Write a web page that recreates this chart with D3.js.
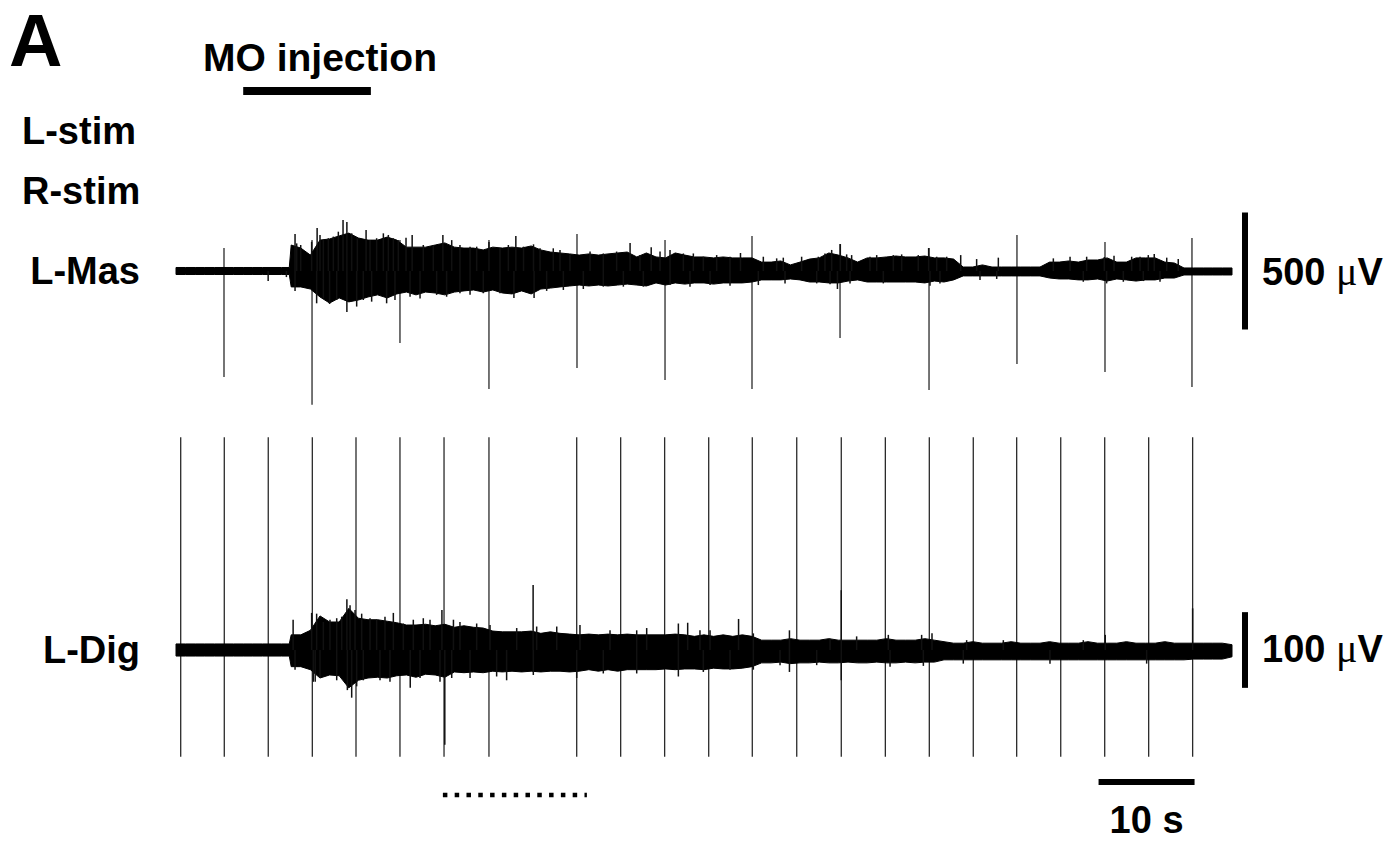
<!DOCTYPE html>
<html>
  <head>
    <meta charset="utf-8">
    <title>MO injection - L-Mas / L-Dig EMG</title>
    <script src="https://d3js.org/d3.v7.min.js"></script>
    <style>
      body { margin: 0; background: #fff; }
      text { font-family: "Liberation Sans", Arial, sans-serif; font-weight: bold; fill: #000; }
      .mu { font-family: "Liberation Serif", "DejaVu Serif", serif; font-weight: normal; }
    </style>
  </head>
  <body>
    <svg id="chart" width="1392" height="841"></svg>
    <script>
      // sample times of the envelope readings (s)
      var sampleTimes = [0, 1, 2, 3, 4, 5, 6, 7, 8, 9, 10, 11, 11.8,
        12, 13, 14, 15, 16, 17, 18, 19,
        20, 21, 22, 23, 24, 25, 26, 27, 28, 29,
        30, 31, 32, 33, 34, 35, 36, 37, 38, 39,
        40, 41, 42, 43, 44, 45, 46, 47, 48, 49,
        50, 51, 52, 53, 54, 55, 56, 57, 58, 59,
        60, 61, 62, 63, 64, 65, 66, 67, 68, 69,
        70, 71, 72, 73, 74, 75, 76, 77, 78, 79,
        80, 81, 82, 83, 84, 85, 86, 87, 88, 89,
        90, 91, 92, 93, 94, 95, 96, 97, 98, 99,
        100, 101, 102, 103, 104, 105, 106, 107, 108, 109, 110];

      // L-Mas envelope, above and below baseline (µV)
      var masUpper = [15, 15, 15, 15, 15, 15, 15, 15, 15, 15, 15, 15, 15,
        111, 98, 68, 132, 137, 150, 162, 141,
        132, 132, 145, 132, 102, 102, 102, 111, 120, 102,
        98, 98, 90, 102, 98, 102, 98, 107, 90, 81,
        77, 73, 68, 73, 68, 73, 77, 81, 60, 77,
        60, 56, 77, 68, 60, 60, 56, 60, 56, 56,
        56, 38, 38, 43, 26, 38, 51, 56, 77, 68,
        56, 38, 56, 56, 60, 64, 60, 60, 64, 56,
        56, 51, 17, 17, 26, 17, 17, 17, 17, 17,
        17, 38, 38, 43, 38, 47, 47, 56, 38, 38,
        56, 56, 56, 38, 34, 13, 13, 13, 13, 13, 13];
      var masLower = [15, 15, 15, 15, 15, 15, 15, 15, 15, 15, 15, 15, 15,
        68, 68, 77, 111, 137, 115, 132, 124,
        111, 102, 115, 98, 90, 102, 90, 94, 102, 90,
        85, 81, 90, 81, 94, 98, 85, 98, 77, 73,
        68, 64, 60, 64, 60, 64, 60, 56, 60, 64,
        51, 60, 51, 56, 51, 51, 56, 51, 51, 51,
        47, 38, 38, 38, 34, 38, 47, 47, 51, 51,
        43, 38, 47, 47, 47, 47, 47, 47, 51, 43,
        47, 38, 21, 21, 21, 21, 21, 21, 21, 21,
        21, 30, 34, 34, 38, 38, 34, 43, 34, 38,
        43, 38, 38, 30, 30, 17, 17, 17, 17, 17, 17];

      // L-Dig envelope (µV)
      var digUpper = [8, 8, 8, 8, 8, 8, 8, 8, 8, 8, 8, 8, 8,
        20, 20, 26, 45, 37, 37, 55, 42,
        40, 40, 38, 36, 33, 33, 34, 32, 34, 30,
        32, 30, 29, 25, 24, 24, 24, 25, 22, 24,
        22, 21, 20, 21, 20, 21, 20, 21, 20, 20,
        20, 20, 21, 20, 18, 20, 18, 20, 18, 20,
        18, 13, 13, 13, 15, 13, 13, 13, 15, 13,
        13, 13, 13, 13, 15, 13, 13, 13, 15, 13,
        11, 9, 9, 11, 9, 9, 9, 11, 9, 9,
        9, 11, 9, 9, 9, 11, 9, 9, 9, 11,
        9, 9, 9, 11, 9, 9, 9, 9, 9, 9, 7];
      var digLower = [8, 8, 8, 8, 8, 8, 8, 8, 8, 8, 8, 8, 8,
        22, 22, 26, 37, 33, 34, 50, 40,
        37, 36, 37, 34, 33, 36, 32, 33, 36, 29,
        30, 29, 30, 28, 29, 28, 29, 28, 29, 28,
        28, 29, 28, 26, 28, 26, 28, 26, 26, 26,
        26, 25, 26, 25, 25, 26, 24, 25, 25, 24,
        22, 17, 17, 16, 18, 17, 17, 16, 17, 17,
        16, 17, 17, 16, 17, 17, 16, 17, 16, 16,
        13, 13, 13, 13, 13, 13, 13, 13, 13, 13,
        13, 13, 13, 13, 13, 13, 13, 13, 13, 13,
        13, 13, 13, 13, 13, 13, 12, 12, 12, 12, 9];

      // single spikes sticking out of the envelope [s, µV]
      var masSpikes = [[9.6, -43], [11.5, -26], [12.4, 158], [12.4, -85], [12.57, 118], [12.99, 111],
        [14.13, 125], [14.65, -138], [14.7, 184], [15.0, 154], [15.35, 132], [15.35, -117], [15.87, 140],
        [16.0, -141], [16.39, 147], [16.74, -124], [16.91, 168], [17.4, 218], [17.8, 209], [17.8, -175],
        [18.3, 161], [18.82, -152], [18.89, 140], [19.51, -124], [19.8, 175], [20.21, 132], [20.38, -131],
        [20.9, 140], [21.6, 161], [21.94, -138], [22.12, 154], [22.64, 140], [22.81, -124], [23.16, 132],
        [23.96, 142], [24.38, -110], [24.6, 154], [25.42, -117], [25.76, 111], [26.8, 111], [27.15, -102],
        [27.8, 154], [28.19, -110], [28.72, 132], [29.58, 111], [29.58, -95], [30.63, 104], [30.63, -102],
        [31.32, 104], [32.01, -95], [32.6, 124], [33.75, 97], [33.75, -95], [34.62, 111], [35.2, -115],
        [35.4, 150], [36.2, 104], [37.24, 114], [37.3, -115], [37.92, 97], [38.61, -85], [39.3, 97],
        [40.0, 90], [40.35, -81], [41.04, 68], [42.43, -77], [43.13, 83], [44.51, 75], [44.51, -67],
        [45.9, 83], [46.6, -67], [47.3, 120], [48.33, 68], [48.68, -67], [49.5, 102], [50.42, 83],
        [51.46, 90], [51.46, -60], [52.85, 75], [53.54, -67], [53.89, 75], [54.93, 61], [55.63, -60],
        [56.32, 68], [57.71, 61], [57.71, -63], [58.8, 77], [60.66, -60], [61.18, 61], [62.57, 54],
        [63.26, 57], [63.44, -53], [65.17, 61], [66.74, -53], [66.91, 61], [67.6, 75], [68.13, -57],
        [68.3, 90], [68.9, -77], [69.2, 115], [69.86, 71], [70.21, -53], [70.38, 68], [72.29, 61],
        [72.99, 68], [73.68, -53], [74.72, 68], [75.59, 71], [77.32, 68], [78.4, 98], [78.54, -63],
        [79.24, 61], [79.58, -53], [80.28, 61], [81.74, 68], [83.4, 51], [83.75, -38], [85.49, -34],
        [85.66, 57], [91.39, 54], [93.13, 61], [94.51, -46], [94.86, 61], [96.7, 60], [96.94, -53],
        [97.71, 65], [98.68, -46], [99.55, 61], [100.42, 61], [100.76, -43], [101.28, 68], [101.9, 73],
        [102.5, -46], [103.2, 57], [104.4, 51]];
      var digSpikes = [[12.2, 40], [12.4, -26], [14.13, 49], [14.3, -42], [14.5, -42], [14.65, 48],
        [15.0, -37], [15.35, 37], [16.04, 40], [16.74, 42], [16.74, -40], [17.26, 44], [17.8, 67],
        [17.85, -53], [18.13, 59], [18.3, -63], [18.65, 53], [18.82, -48], [19.34, 48], [19.51, -40],
        [20.21, 42], [20.9, 40], [21.25, -40], [21.77, 44], [22.29, -42], [22.64, 49], [23.68, 35],
        [24.4, -50], [24.72, 40], [25.42, -37], [25.76, 42], [26.46, 40], [27.5, -42], [27.7, 53],
        [28.0, -125], [28.72, -37], [28.9, 40], [29.58, 37], [30.63, -37], [31.32, 35], [32.71, 33],
        [33.4, -35], [34.44, -40], [35.49, 29], [37.2, 86], [37.22, -33], [37.57, 31], [39.66, 31],
        [41.74, -37], [42.08, 33], [44.51, -31], [45.21, 26], [47.99, 26], [47.99, -31], [49.03, 29],
        [52.33, 35], [52.33, -35], [53.3, 36], [54.58, 26], [54.93, -29], [55.63, 26], [57.71, -26],
        [58.6, 41], [60.14, 22], [60.14, -26], [62.92, -20], [63.9, 26], [63.9, -29], [66.74, -20],
        [68.13, 15], [69.3, 79], [69.3, -40], [70.9, 18], [74.2, 20], [74.38, -22], [77.67, 20],
        [77.85, -21], [78.75, 22], [82.01, -18], [82.36, 13], [86.18, 13], [91.04, -18], [94.51, 13],
        [96.8, 20], [101.11, -18], [105.9, 55]];

      // stimulus artefacts
      var masStimTimes = [5.0, 14.17, 23.33, 32.6, 41.77, 50.94, 60.0, 69.17, 78.44, 87.6, 96.77, 105.83];
      var masStimTop = [98, 132, 132, 132, 158, 132, 150, 115, 98, 154, 124, 141];
      var masStimBottom = [453, 572, 308, 504, 414, 466, 504, 286, 509, 397, 432, 496];
      var digStimTimes = [0.49, 5.03, 9.61, 14.2, 18.75, 23.33, 27.92, 32.6, 41.74, 46.32, 50.9, 55.49, 60.03, 64.66, 69.3, 73.89, 78.47, 83.05, 87.57, 92.16, 96.74, 101.32, 105.9];
      var digStimTop = 281;
      var digStimBottom = 141;

      // marks on the time axis (s) and scale bars
      var injection = [7.0, 20.3];
      var dotted = [27.8, 42.8];
      var timeBar = [96.1, 106.1];
      var timeBarLabel = "10 s";
      var masBar = [-250, 250];
      var masBarLabel = ["500 ", "μ", "V"];
      var digBar = [-50, 50];
      var digBarLabel = ["100 ", "μ", "V"];
      var rowLabels = ["L-stim", "R-stim", "L-Mas", "L-Dig"];

      // scales
      chart = d3.select("#chart");
      x = d3.scaleLinear().domain([0, 110]).range([176, 1232]);
      masY = d3.scaleLinear().domain([-500, 500]).range([388, 154]);
      digY = d3.scaleLinear().domain([-100, 100]).range([725.7, 574.3]);

      function drawTrace(yScale, upper, lower, spikes, stimT, stimTop, stimBottom) {
        var g = chart.append("g");
        // stimulus artefacts under the trace
        g.selectAll(".stim")
          .data(stimT)
          .enter().append("line")
            .attr("x1", function(d) { return x(d); })
            .attr("x2", function(d) { return x(d); })
            .attr("y1", function(d, i) { return yScale(Array.isArray(stimTop) ? stimTop[i] : stimTop); })
            .attr("y2", function(d, i) { return yScale(-(Array.isArray(stimBottom) ? stimBottom[i] : stimBottom)); })
            .style("stroke", "#2a2a2a")
            .style("stroke-width", 1.3);
        var area = d3.area()
          .x(function(d, i) { return x(sampleTimes[i]); })
          .y0(function(d, i) { return yScale(-lower[i]); })
          .y1(function(d, i) { return yScale(upper[i]); });
        g.append("path")
          .datum(upper)
          .attr("d", area)
          .style("fill", "#000")
          .style("stroke", "#000")
          .style("stroke-width", 1);
        g.selectAll(".spike")
          .data(spikes)
          .enter().append("line")
            .attr("x1", function(d) { return x(d[0]); })
            .attr("x2", function(d) { return x(d[0]); })
            .attr("y1", yScale(0))
            .attr("y2", function(d) { return yScale(d[1]); })
            .style("stroke", "#111")
            .style("stroke-width", 1.5);
      }

      drawTrace(masY, masUpper, masLower, masSpikes, masStimTimes, masStimTop, masStimBottom);
      drawTrace(digY, digUpper, digLower, digSpikes, digStimTimes, digStimTop, digStimBottom);

      // panel letter and labels
      chart.append("text").attr("x", 9).attr("y", 66).style("font-size", "74px").text("A");
      chart.append("text").attr("x", 203).attr("y", 71).style("font-size", "39px").text("MO injection");
      chart.append("line")
        .attr("x1", x(injection[0])).attr("x2", x(injection[1]))
        .attr("y1", 91).attr("y2", 91)
        .style("stroke", "#000").style("stroke-width", 8);

      chart.append("text").attr("x", 22).attr("y", 144).style("font-size", "38px").text(rowLabels[0]);
      chart.append("text").attr("x", 22).attr("y", 204).style("font-size", "38px").text(rowLabels[1]);
      chart.append("text").attr("x", 140).attr("y", masY(0) + 13).attr("text-anchor", "end").style("font-size", "38px").text(rowLabels[2]);
      chart.append("text").attr("x", 140).attr("y", digY(0) + 13).attr("text-anchor", "end").style("font-size", "38px").text(rowLabels[3]);

      // amplitude scale bars
      function unitLabel(parts, y) {
        var t = chart.append("text").attr("x", 1262).attr("y", y).style("font-size", "38px");
        t.append("tspan").text(parts[0]);
        t.append("tspan").attr("class", "mu").style("font-size", "40px").text(parts[1]);
        t.append("tspan").text(parts[2]);
      }
      chart.append("line")
        .attr("x1", 1245).attr("x2", 1245)
        .attr("y1", masY(masBar[0])).attr("y2", masY(masBar[1]))
        .style("stroke", "#000").style("stroke-width", 6);
      unitLabel(masBarLabel, masY(0) + 14);
      chart.append("line")
        .attr("x1", 1245).attr("x2", 1245)
        .attr("y1", digY(digBar[0])).attr("y2", digY(digBar[1]))
        .style("stroke", "#000").style("stroke-width", 6);
      unitLabel(digBarLabel, digY(0) + 12);

      // time scale bar and dotted period
      chart.append("line")
        .attr("x1", x(timeBar[0])).attr("x2", x(timeBar[1]))
        .attr("y1", 782).attr("y2", 782)
        .style("stroke", "#000").style("stroke-width", 6);
      chart.append("text")
        .attr("x", (x(timeBar[0]) + x(timeBar[1])) / 2).attr("y", 833)
        .attr("text-anchor", "middle").style("font-size", "38px").text(timeBarLabel);
      chart.append("line")
        .attr("x1", x(dotted[0])).attr("x2", x(dotted[1]))
        .attr("y1", 795).attr("y2", 795)
        .style("stroke", "#000").style("stroke-width", 4.5)
        .style("stroke-dasharray", "4.5,7.3");
    </script>
  </body>
</html>
